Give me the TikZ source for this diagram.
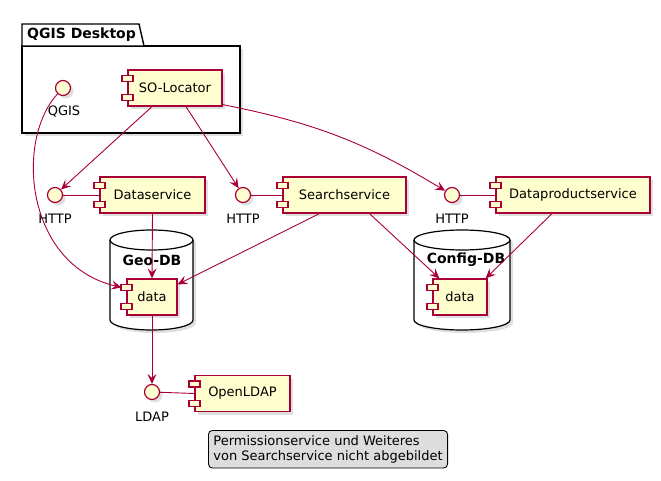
\documentclass[tikz,border=0pt]{standalone}
\usepackage{fontspec}
\setmainfont{DejaVu Sans}
\usetikzlibrary{arrows.meta,shadows}
\definecolor{umlred}{HTML}{A80036}
\definecolor{umlfill}{HTML}{FEFECE}
\definecolor{notegray}{HTML}{DDDDDD}
\tikzset{
  shad/.style={drop shadow={opacity=.25, shadow xshift=3pt, shadow yshift=-3pt}},
  comp/.style={draw=umlred, fill=umlfill, line width=1.2pt, minimum height=36pt, inner sep=0pt, font=\fontsize{13}{15}\selectfont, shad},
  pin/.style={draw=umlred, fill=umlfill, line width=1.2pt, minimum width=11pt, minimum height=6pt, inner sep=0pt},
  iface/.style={circle, draw=umlred, fill=umlfill, line width=1.2pt, minimum size=15pt, inner sep=0pt, shad},
  lbl/.style={font=\fontsize{13}{15}\selectfont, inner sep=0pt},
  title/.style={font=\fontsize{14}{16}\selectfont\bfseries, inner sep=0pt},
  dbshape/.style={draw=black, fill=white, line width=1.2pt},
  dep/.style={draw=umlred, line width=0.9pt, -{Stealth[length=10pt,width=9pt,inset=4pt]}},
  link/.style={draw=umlred, line width=0.9pt}
}
% two small pins on the left edge of a component
\newcommand\comppins[1]{%
  \node[pin] at ([yshift=-9pt]#1.north west) {};
  \node[pin] at ([yshift=9pt]#1.south west) {};}

\begin{document}
\begin{tikzpicture}[x=1pt, y=-1pt]
\useasboundingbox (0,0) rectangle (661,481);

% package
\draw[line width=1.4pt, fill=white, shad] (22,46) rectangle (240,133);
\draw[line width=1.4pt, fill=white] (22,46) -- (22,24) -- (139,24) -- (144,46) -- cycle;
\node[title, anchor=west] (pkgtitle) at (27,35) {QGIS Desktop};

% databases
\draw[dbshape, shad] (110,240) -- (110,320) arc[start angle=180, end angle=360, x radius=41.5pt, y radius=10pt]
  -- (193,240) arc[start angle=0, end angle=180, x radius=41.5pt, y radius=10pt] -- cycle;
\draw[dbshape, fill=none] (110,240) arc[start angle=180, end angle=360, x radius=41.5pt, y radius=10pt];
\node[title] (geodb) at (152,260) {Geo-DB};

\draw[dbshape, shad] (414,240) -- (414,320) arc[start angle=180, end angle=360, x radius=48pt, y radius=10pt]
  -- (510,240) arc[start angle=0, end angle=180, x radius=48pt, y radius=10pt] -- cycle;
\draw[dbshape, fill=none] (414,240) arc[start angle=180, end angle=360, x radius=48pt, y radius=10pt];
\node[title] (configdb) at (466,260) {Config-DB};

% interfaces
\node[iface] (qgis) at (63,88) {};
\node[lbl] (qgislbl) at (64,112) {QGIS};
\node[iface] (http1) at (55,195) {};
\node[lbl] (http1lbl) at (55,219) {HTTP};
\node[iface] (http2) at (243,195) {};
\node[lbl] (http2lbl) at (243,219) {HTTP};
\node[iface] (http3) at (452,195) {};
\node[lbl] (http3lbl) at (452,219) {HTTP};
\node[iface] (ldap) at (152,392) {};
\node[lbl] (ldaplbl) at (152,417) {LDAP};

% components
\node[comp, minimum width=94pt] (solocator) at (175,88) {SO-Locator};
\comppins{solocator}
\node[comp, minimum width=105pt] (dataservice) at (152.5,195) {Dataservice};
\comppins{dataservice}
\node[comp, minimum width=123pt] (searchservice) at (344.5,195) {Searchservice};
\comppins{searchservice}
\node[comp, minimum width=154pt] (dataproductservice) at (573,195) {Dataproductservice};
\comppins{dataproductservice}
\node[comp, minimum width=50pt] (geodata) at (152,297) {data};
\comppins{geodata}
\node[comp, minimum width=54pt] (configdata) at (460,297) {data};
\comppins{configdata}
\node[comp, minimum width=95pt] (openldap) at (242.5,393.5) {OpenLDAP};
\comppins{openldap}

% links
\draw[link] (http1) -- (dataservice.west);
\draw[link] (http2) -- (searchservice.west);
\draw[link] (http3) -- (dataproductservice.west);
\draw[link] (ldap) -- (openldap.west);

% dependencies
\draw[dep] (qgis) .. controls (15,140) and (25,265) .. ([xshift=-5pt,yshift=-9pt]geodata.north west);
\draw[dep] ([xshift=-23pt]solocator.south) -- (http1);
\draw[dep] ([xshift=11pt]solocator.south) -- (http2);
\draw[dep] ([yshift=2pt]solocator.south east) to[bend left=10] (http3);
\draw[dep] (dataservice.south) -- (geodata.north);
\draw[dep] ([xshift=-25pt]searchservice.south) -- ([yshift=-6pt]geodata.north east);
\draw[dep] ([xshift=25pt]searchservice.south) -- ([xshift=7pt]configdata.north west);
\draw[dep] ([xshift=-21pt]dataproductservice.south) -- ([xshift=-2pt]configdata.north east);
\draw[dep] (geodata.south) -- (ldap);

% note
\node[draw=black, fill=notegray, rounded corners=4pt, line width=0.9pt, align=left,
  font=\fontsize{13}{15}\selectfont, inner xsep=5pt, inner ysep=5pt, anchor=north west] (note) at (208,430)
  {Permissionservice und Weiteres\\von Searchservice nicht abgebildet};
\end{tikzpicture}
\end{document}
